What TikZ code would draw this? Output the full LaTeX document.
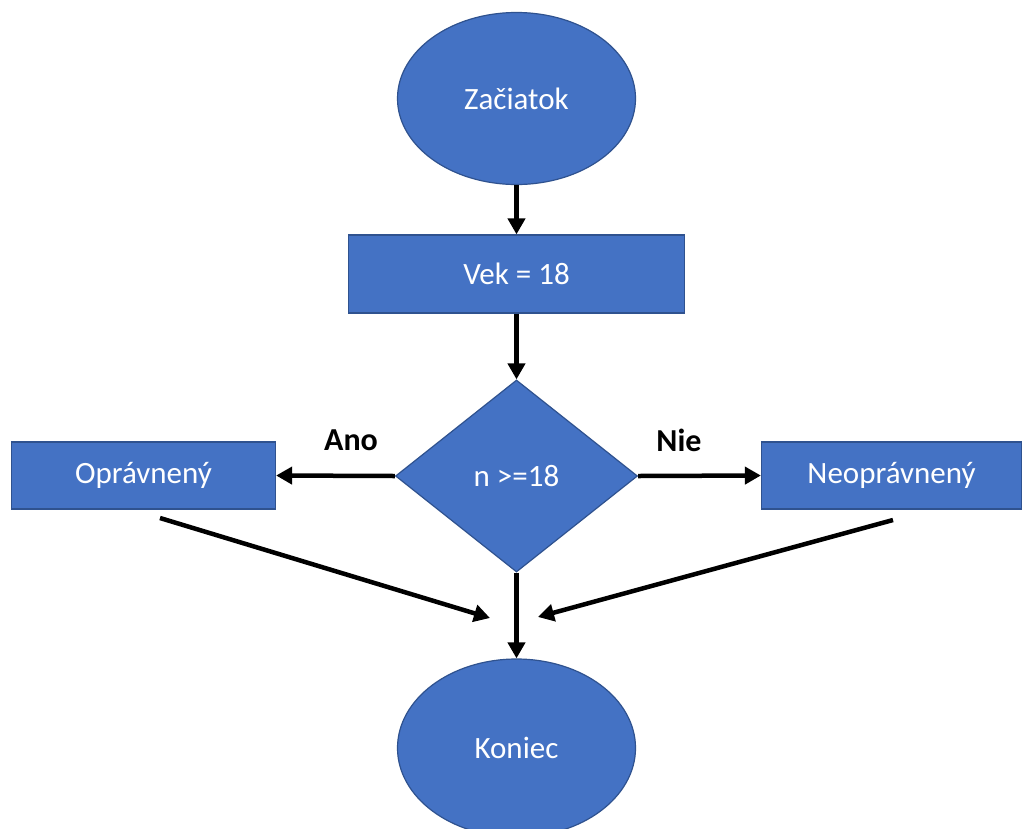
\documentclass[tikz,border=0pt]{standalone}
\usepackage{fontspec}
\setmainfont{Carlito}
\usetikzlibrary{shapes.geometric,arrows.meta}
\definecolor{boxfill}{HTML}{4472C4}
\definecolor{boxline}{HTML}{2F528F}
\begin{document}
\begin{tikzpicture}[x=1pt,y=-1pt,
  shapebase/.style={fill=boxfill,draw=boxline,line width=1.2pt,text=white,inner sep=0pt,
     font=\fontsize{31}{36}\selectfont},
  oval/.style={shapebase,ellipse,minimum width=238pt,minimum height=172pt},
  procbox/.style={shapebase,rectangle},
  decision/.style={shapebase,diamond,minimum width=242pt,minimum height=192pt},
  flow/.style={line width=4.5pt,-{Triangle[length=16pt,width=17pt]}},
  lbl/.style={font=\fontsize{32}{36}\selectfont\bfseries,text=black}]
\useasboundingbox (0,0) rectangle (1022,828);
\fill[white] (0,0) rectangle (1022,828);
\node[oval] (start) at (516.5,98.5) {Začiatok};
\node[procbox,minimum width=336pt,minimum height=78pt] (vek) at (516.5,274) {Vek = 18};
\node[decision] (dec) at (516.5,476) {n >=18};
\node[procbox,minimum width=264pt,minimum height=67pt] (opr) at (143.5,475.5) {Oprávnený};
\node[procbox,minimum width=260pt,minimum height=67pt] (neo) at (891.5,475.5) {Neoprávnený};
\node[oval,minimum height=178pt] (end) at (516.5,748) {Koniec};
\draw[flow] (start.south) -- (vek.north);
\draw[flow] (vek.south) -- (dec.north);
\draw[flow] (dec.west) -- (opr.east);
\draw[flow] (dec.east) -- (neo.west);
\draw[flow] (dec.south) -- (end.north);
\coordinate (l1) at (160,518);
\coordinate (l2) at (490,618);
\coordinate (r1) at (893,520);
\coordinate (r2) at (538,617);
\draw[flow] (l1) -- (l2);
\draw[flow] (r1) -- (r2);
\node[lbl] (ano) at (351,440) {Ano};
\node[lbl] (nie) at (679,440) {Nie};
\end{tikzpicture}
\end{document}
